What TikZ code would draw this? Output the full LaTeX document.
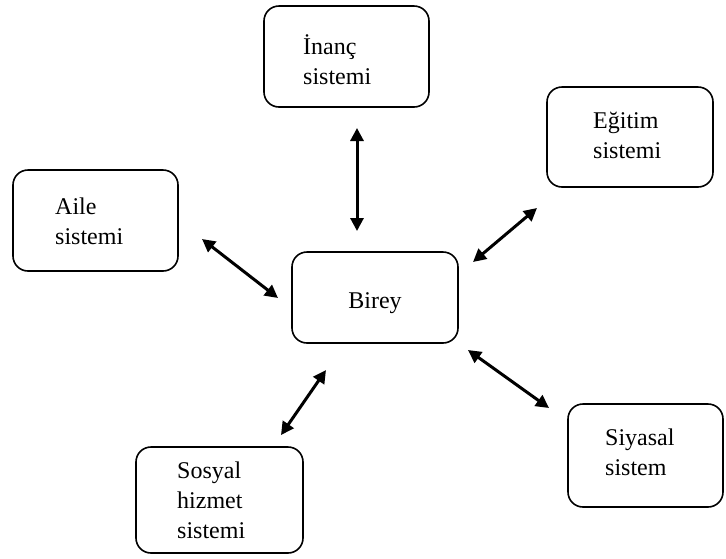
\documentclass[tikz,border=0pt]{standalone}
\usepackage{fontspec}
\setmainfont{Liberation Serif}
\usetikzlibrary{arrows.meta}
\begin{document}
\begin{tikzpicture}[x=1pt,y=-1pt,
  box/.style={draw, line width=1.6pt, rounded corners=15pt, inner sep=0pt, rectangle},
  lbl/.style={anchor=base west, inner sep=0pt, align=left, font=\fontsize{24}{30}\selectfont},
  link/.style={line width=3pt, {Triangle[width=13pt,length=13pt]}-{Triangle[width=13pt,length=13pt]}}]
\useasboundingbox (0,0) rectangle (726,558);
\fill[white] (0,0) rectangle (726,558);
% boxes
\node[box, minimum width=165pt, minimum height=101pt] (inanc) at (346.5,56.5) {};
\node[box, minimum width=166pt, minimum height=100pt] (egitim) at (630,137) {};
\node[box, minimum width=165pt, minimum height=101pt] (aile) at (95.5,220.5) {};
\node[box, minimum width=166pt, minimum height=91pt] (birey) at (375,297.5) {};
\node[box, minimum width=155pt, minimum height=103pt] (siyasal) at (645.5,455.5) {};
\node[box, minimum width=167pt, minimum height=106pt] (sosyal) at (219.5,500) {};
% labels (anchor at baseline of last line)
\node[lbl] (tinanc) at (303,84) {İnanç\\sistemi};
\node[lbl] (tegitim) at (593,158) {Eğitim\\sistemi};
\node[lbl] (taile) at (55,244) {Aile\\sistemi};
\node[lbl, anchor=base] (tbirey) at (375,308) {Birey};
\node[lbl] (tsiyasal) at (605,475) {Siyasal\\sistem};
\node[lbl] (tsosyal) at (177,538) {Sosyal\\hizmet\\sistemi};
% arrow end points
\coordinate (a1) at (357,128); \coordinate (b1) at (357,231);
\coordinate (a2) at (202,239); \coordinate (b2) at (278,298);
\coordinate (a3) at (537,208); \coordinate (b3) at (473,262);
\coordinate (a4) at (468,350); \coordinate (b4) at (549,408);
\coordinate (a5) at (326,370); \coordinate (b5) at (281,435);
\draw[link] (a1) -- (b1);
\draw[link] (a2) -- (b2);
\draw[link] (a3) -- (b3);
\draw[link] (a4) -- (b4);
\draw[link] (a5) -- (b5);
\end{tikzpicture}
\end{document}
